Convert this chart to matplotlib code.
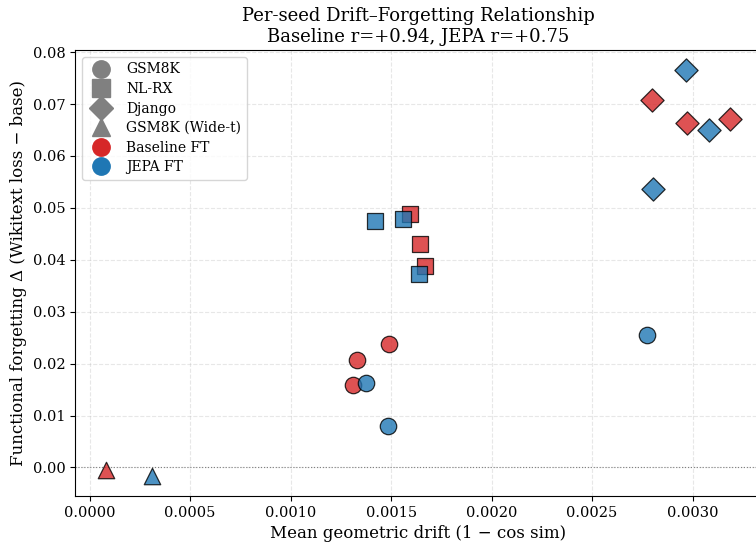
import matplotlib
matplotlib.use("Agg")
import matplotlib.pyplot as plt
from matplotlib.lines import Line2D

plt.rcParams['font.family'] = ['DejaVu Serif']

# Baseline FT (red)
base_gsm_x = [0.001490, 0.001332, 0.001312]
base_gsm_y = [0.0238, 0.0206, 0.0158]
base_nl_x = [0.001592, 0.001644, 0.001670]
base_nl_y = [0.0488, 0.0430, 0.0388]
base_dj_x = [0.002797, 0.002972, 0.003185]
base_dj_y = [0.0708, 0.0663, 0.0671]
base_wide_x = [0.0000826]
base_wide_y = [-0.0004]

# JEPA FT (blue)
jepa_gsm_x = [0.001375, 0.001487, 0.002772]
jepa_gsm_y = [0.0162, 0.0079, 0.0256]
jepa_nl_x = [0.001561, 0.001421, 0.001640]
jepa_nl_y = [0.0478, 0.0475, 0.0372]
jepa_dj_x = [0.002965, 0.003081, 0.002805]
jepa_dj_y = [0.0765, 0.0650, 0.0536]
jepa_wide_x = [0.000313]
jepa_wide_y = [-0.0016]

red = '#d62728'
blue = '#1f77b4'

fig = plt.figure(figsize=(7.56, 5.44), dpi=100)
ax = fig.add_axes([0.0992, 0.0882, 0.9074, 0.8199])

kw = dict(s=140, alpha=0.8, edgecolors='black', linewidths=0.9, zorder=3)
for xs, ys, m, c in [
    (base_gsm_x, base_gsm_y, 'o', red),
    (base_nl_x, base_nl_y, 's', red),
    (base_dj_x, base_dj_y, 'D', red),
    (base_wide_x, base_wide_y, '^', red),
    (jepa_gsm_x, jepa_gsm_y, 'o', blue),
    (jepa_nl_x, jepa_nl_y, 's', blue),
    (jepa_dj_x, jepa_dj_y, 'D', blue),
    (jepa_wide_x, jepa_wide_y, '^', blue),
]:
    ax.scatter(xs, ys, marker=m, color=c, **kw)

ax.axhline(0, color='gray', linestyle=':', linewidth=0.8, zorder=1)
ax.grid(True, linestyle='--', alpha=0.3)
ax.set_axisbelow(True)

ax.set_xlabel('Mean geometric drift (1 \u2212 cos sim)', fontsize=12)
ax.set_ylabel('Functional forgetting \u0394 (Wikitext loss \u2212 base)', fontsize=12)
ax.set_title('Per-seed Drift\u2013Forgetting Relationship\nBaseline r=+0.94, JEPA r=+0.75', fontsize=13)
ax.tick_params(labelsize=10.5)

ms = 12.5
handles = [
    Line2D([], [], marker='o', color='gray', linestyle='', markersize=ms, label='GSM8K'),
    Line2D([], [], marker='s', color='gray', linestyle='', markersize=ms, label='NL-RX'),
    Line2D([], [], marker='D', color='gray', linestyle='', markersize=ms, label='Django'),
    Line2D([], [], marker='^', color='gray', linestyle='', markersize=ms, label='GSM8K (Wide-t)'),
    Line2D([], [], marker='o', color=red, linestyle='', markersize=ms, label='Baseline FT'),
    Line2D([], [], marker='o', color=blue, linestyle='', markersize=ms, label='JEPA FT'),
]
ax.legend(handles=handles, loc='upper left', fontsize=10, labelspacing=0.4)

fig.savefig('out.png', dpi=100)
